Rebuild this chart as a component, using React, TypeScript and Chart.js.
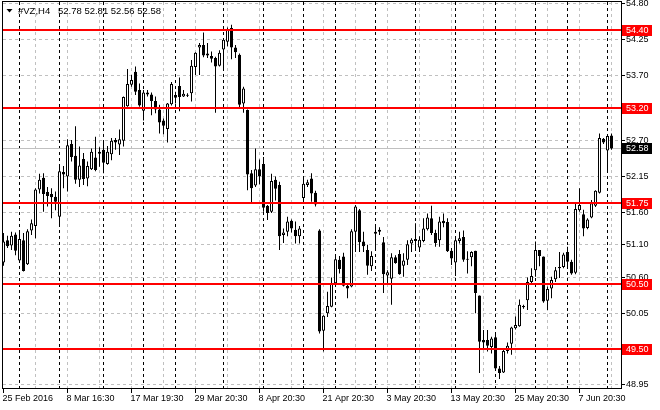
import React, { useEffect, useRef } from "react";
import { Chart, registerables } from "chart.js";

Chart.register(...registerables);

const symbol = "#VZ,H4";

const opens = [
  50.83, 51.17, 51.09, 51.26, 50.86, 51.17, 50.8, 51.32, 51.39, 51.95,
  52.13, 51.91, 51.88, 51.84, 51.53, 52.22, 52.15, 52.65, 52.47, 52.1,
  52.42, 52.12, 52.26, 52.44, 52.53, 52.56, 52.34, 52.49, 52.71, 52.64,
  52.7, 53.23, 53.56, 53.76, 53.48, 53.16, 53.44, 53.41, 53.31, 53.18,
  53.01, 52.88, 53.26, 53.4, 53.54, 53.38, 53.4, 53.43, 53.83, 54.13,
  54.17, 54.04, 54.0, 53.97, 53.85, 54.1, 54.22, 54.43, 54.13, 54.02,
  53.27, 53.17, 52.2, 52.01, 52.26, 52.34, 51.7, 51.61, 52.1, 52.02,
  51.25, 51.3, 51.47, 51.33, 51.23, 51.82, 52.02, 52.12, 51.9, 51.32,
  49.78, 50.05, 50.15, 50.51, 50.87, 50.92, 50.47, 50.46, 51.3, 51.63,
  51.15, 51.02, 50.77, 51.27, 51.33, 51.14, 50.63, 50.58, 50.91, 50.96,
  50.78, 50.87, 51.12, 51.19, 51.06, 51.16, 51.34, 51.51, 51.28, 51.17,
  51.47, 51.45, 51.01, 50.83, 51.16, 51.22, 50.88, 50.91, 51.01, 50.32,
  49.64, 49.64, 49.53, 49.68, 49.2, 49.14, 49.47, 49.58, 49.82, 49.85,
  50.16, 50.25, 50.53, 50.71, 51.02, 50.92, 50.24, 50.43, 50.57, 50.74,
  50.76, 50.99, 50.84, 50.67, 51.63, 51.57, 51.36, 51.52, 51.7, 51.9,
  52.73, 52.55, 52.78,
];

const highs = [
  51.28, 51.24, 51.3, 51.29, 51.28, 51.28, 51.34, 51.49, 51.97, 52.19,
  52.2, 51.99, 51.97, 51.92, 52.33, 52.31, 52.72, 52.71, 52.92, 52.61,
  52.51, 52.38, 52.58, 52.76, 52.6, 52.68, 52.62, 52.74, 52.74, 52.87,
  53.38, 53.8, 53.71, 53.84, 53.58, 53.48, 53.48, 53.44, 53.38, 53.25,
  53.04, 53.28, 53.6, 53.45, 53.67, 53.48, 53.43, 53.94, 54.06, 54.2,
  54.36, 54.2, 54.07, 53.99, 54.09, 54.27, 54.44, 54.48, 54.17, 54.04,
  53.53, 53.18, 52.25, 52.58, 52.41, 52.45, 51.71, 52.19, 52.15, 52.07,
  51.35, 51.53, 51.49, 51.46, 51.39, 52.12, 52.1, 52.2, 51.93, 51.34,
  50.02, 50.38, 50.6, 50.94, 50.93, 50.98, 50.5, 51.34, 51.71, 51.65,
  51.3, 51.1, 51.0, 51.4, 51.37, 51.22, 50.71, 50.97, 50.94, 51.02,
  50.97, 51.17, 51.2, 51.43, 51.23, 51.51, 51.58, 51.7, 51.33, 51.53,
  51.58, 51.51, 51.05, 51.23, 51.3, 51.32, 51.0, 51.0, 51.01, 50.32,
  49.79, 49.79, 49.69, 49.74, 49.24, 49.49, 49.6, 49.84, 50.0, 50.26,
  50.18, 50.6, 50.74, 51.15, 51.02, 50.92, 50.46, 50.61, 50.76, 50.99,
  50.98, 51.07, 50.87, 51.74, 51.97, 51.64, 51.51, 51.79, 51.94, 52.81,
  52.74, 52.79, 52.81,
];

const lows = [
  50.78, 51.05, 51.02, 50.94, 50.84, 50.69, 50.79, 51.25, 51.2, 51.89,
  51.61, 51.69, 51.51, 51.63, 51.38, 51.97, 51.92, 52.38, 52.04, 51.99,
  52.02, 52.0, 52.25, 52.23, 52.3, 52.2, 52.33, 52.4, 52.56, 52.48,
  52.61, 53.22, 53.53, 53.4, 53.22, 53.01, 53.38, 53.09, 53.12, 52.81,
  52.8, 52.67, 53.24, 53.27, 53.15, 53.37, 53.37, 53.3, 53.71, 53.71,
  53.98, 53.97, 53.9, 53.13, 53.84, 53.78, 54.15, 53.95, 53.97, 53.21,
  53.13, 51.94, 51.75, 51.99, 52.03, 51.61, 51.48, 51.59, 51.78, 51.02,
  51.13, 51.23, 51.29, 51.12, 51.12, 51.76, 51.99, 51.76, 51.69, 49.74,
  49.46, 49.99, 50.14, 50.5, 50.66, 50.46, 50.28, 50.45, 50.99, 50.99,
  50.99, 50.64, 50.7, 51.01, 51.25, 50.36, 50.5, 50.18, 50.81, 50.64,
  50.61, 50.79, 50.99, 51.05, 50.99, 51.14, 51.32, 51.25, 51.07, 51.07,
  51.37, 50.99, 50.79, 50.62, 51.12, 50.84, 50.66, 50.77, 50.05, 49.13,
  49.49, 49.46, 49.43, 49.18, 49.04, 49.13, 49.43, 49.41, 49.8, 49.84,
  50.12, 50.1, 50.51, 50.61, 50.77, 50.21, 50.1, 50.28, 50.53, 50.59,
  50.74, 50.77, 50.64, 50.65, 51.61, 51.23, 51.34, 51.51, 51.68, 51.89,
  52.65, 52.22, 52.56,
];

const closes = [
  51.15, 51.08, 51.24, 51.01, 51.19, 50.7, 51.31, 51.43, 51.95, 52.1,
  51.88, 51.85, 51.83, 51.76, 52.23, 52.18, 52.63, 52.45, 52.1, 52.32,
  52.11, 52.31, 52.53, 52.25, 52.5, 52.36, 52.53, 52.7, 52.67, 52.72,
  53.37, 53.57, 53.63, 53.45, 53.24, 53.44, 53.41, 53.31, 53.18, 52.98,
  52.93, 53.27, 53.57, 53.36, 53.37, 53.42, 53.39, 53.85, 54.05, 54.17,
  54.01, 54.01, 53.96, 53.84, 54.05, 54.25, 54.4, 54.13, 54.06, 53.25,
  53.5, 52.18, 51.97, 52.26, 52.15, 51.67, 51.59, 52.08, 51.96, 51.23,
  51.29, 51.46, 51.35, 51.23, 51.35, 52.04, 52.06, 51.89, 51.72, 49.77,
  50.01, 50.16, 50.51, 50.88, 50.73, 50.47, 50.43, 51.31, 51.69, 51.14,
  51.08, 50.78, 50.93, 51.3, 51.3, 50.65, 50.68, 50.91, 50.82, 50.65,
  50.86, 51.11, 51.18, 51.16, 51.18, 51.35, 51.52, 51.28, 51.13, 51.46,
  51.43, 51.0, 50.89, 51.17, 51.2, 50.87, 50.87, 50.99, 50.36, 49.61,
  49.6, 49.55, 49.66, 49.2, 49.13, 49.47, 49.55, 49.83, 49.87, 50.18,
  50.14, 50.53, 50.62, 51.02, 50.93, 50.23, 50.42, 50.56, 50.71, 50.76,
  50.95, 50.84, 50.66, 51.65, 51.71, 51.35, 51.49, 51.74, 51.93, 52.74,
  52.67, 52.77, 52.58,
];

const xLabelBars = [0, 16, 32, 48, 64, 80, 96, 112, 128, 144];
const xLabels = [
  "25 Feb 2016",
  "8 Mar 16:30",
  "17 Mar 19:30",
  "29 Mar 20:30",
  "8 Apr 20:30",
  "21 Apr 20:30",
  "3 May 20:30",
  "13 May 20:30",
  "25 May 20:30",
  "7 Jun 20:30",
];
const gridBars = [8, 16, 24, 32, 40, 48, 56, 64, 72, 80, 88, 96, 104, 112, 120, 128, 136, 144, 152];
const separatorBars = [4, 14, 25, 35, 43, 55, 65, 75, 83, 93, 103, 113, 123, 133, 141, 151];
const yTicks = [54.8, 54.25, 53.7, 53.2, 52.7, 52.15, 51.6, 51.1, 50.6, 50.05, 49.5, 48.95];
const levels = [54.4, 53.2, 51.75, 50.5, 49.5];

const FONT = '9px "Liberation Sans", Arial, sans-serif';
const TITLE_FONT = '9.5px "Liberation Sans", Arial, sans-serif';

function crisp(v: number) {
  return Math.round(v - 0.5) + 0.5;
}

export default function App() {
  const canvasRef = useRef<HTMLCanvasElement | null>(null);

  useEffect(() => {
    const prevMargin = document.body.style.margin;
    document.body.style.margin = "0";
    const canvas = canvasRef.current;
    if (!canvas) return;

    const idx = closes.map((_, i) => i);
    const bull = idx.map((i) => closes[i] >= opens[i]);
    const wickData = idx.map((i) => ({ x: i, y: [lows[i], highs[i]] }));
    const bodyData = idx.map((i) => ({
      x: i,
      y: [Math.min(opens[i], closes[i]), Math.max(opens[i], closes[i])],
    }));
    const last = closes.length - 1;

    const overlay = {
      id: "mt4Overlay",
      beforeDatasetsDraw(chart: any) {
        const { ctx, chartArea: a } = chart;
        const x = chart.scales.x;
        const y = chart.scales.y;
        ctx.save();
        ctx.beginPath();
        ctx.rect(a.left, a.top, a.right - a.left, a.bottom - a.top);
        ctx.clip();
        ctx.lineWidth = 1;
        ctx.setLineDash([3, 3]);
        ctx.strokeStyle = "#c0c0c0";
        yTicks.forEach((v) => {
          const yy = crisp(y.getPixelForValue(v));
          ctx.beginPath();
          ctx.moveTo(a.left, yy);
          ctx.lineTo(a.right, yy);
          ctx.stroke();
        });
        gridBars.forEach((b) => {
          const xx = crisp(x.getPixelForValue(b));
          ctx.beginPath();
          ctx.moveTo(xx, a.top);
          ctx.lineTo(xx, a.bottom);
          ctx.stroke();
        });
        ctx.strokeStyle = "#000000";
        separatorBars.forEach((b) => {
          const xx = crisp(x.getPixelForValue(b));
          ctx.beginPath();
          ctx.moveTo(xx, a.top);
          ctx.lineTo(xx, a.bottom);
          ctx.stroke();
        });
        ctx.setLineDash([]);
        ctx.strokeStyle = "#c0c0c0";
        const py = crisp(y.getPixelForValue(closes[last]));
        ctx.beginPath();
        ctx.moveTo(a.left, py);
        ctx.lineTo(a.right, py);
        ctx.stroke();
        ctx.restore();
      },
      afterDatasetsDraw(chart: any) {
        const { ctx, chartArea: a } = chart;
        const y = chart.scales.y;
        ctx.save();
        ctx.strokeStyle = "#ff0000";
        ctx.lineWidth = 2;
        levels.forEach((lv) => {
          const yy = Math.round(y.getPixelForValue(lv));
          ctx.beginPath();
          ctx.moveTo(a.left, yy);
          ctx.lineTo(a.right, yy);
          ctx.stroke();
        });
        ctx.restore();
      },
      afterDraw(chart: any) {
        const { ctx, chartArea: a } = chart;
        const x = chart.scales.x;
        const y = chart.scales.y;
        ctx.save();
        // frame
        ctx.strokeStyle = "#000000";
        ctx.lineWidth = 1;
        ctx.strokeRect(a.left - 0.5, a.top - 0.5, a.right - a.left + 1, a.bottom - a.top + 1);

        ctx.font = FONT;
        ctx.fillStyle = "#000000";
        ctx.textAlign = "left";
        ctx.textBaseline = "middle";

        // y ticks and labels
        yTicks.forEach((v) => {
          const yy = crisp(y.getPixelForValue(v));
          ctx.beginPath();
          ctx.moveTo(a.right, yy);
          ctx.lineTo(a.right + 4, yy);
          ctx.stroke();
          ctx.fillText(v.toFixed(2), a.right + 5, yy);
        });

        // x ticks and labels
        xLabelBars.forEach((b, i) => {
          const xx = crisp(x.getPixelForValue(b));
          ctx.beginPath();
          ctx.moveTo(xx, a.bottom);
          ctx.lineTo(xx, a.bottom + 5);
          ctx.stroke();
          ctx.fillText(xLabels[i], xx - 1, a.bottom + 10.5);
        });

        // level labels
        levels.forEach((lv) => {
          const yy = Math.round(y.getPixelForValue(lv));
          ctx.fillStyle = "#ff0000";
          ctx.fillRect(a.right + 1, yy - 5, 30, 11);
          ctx.fillStyle = "#ffffff";
          ctx.fillText(lv.toFixed(2), a.right + 5, yy + 0.5);
        });

        // current price label
        const py = Math.round(y.getPixelForValue(closes[last]));
        ctx.fillStyle = "#000000";
        ctx.fillRect(a.right + 1, py - 5, 30, 11);
        ctx.fillStyle = "#ffffff";
        ctx.fillText(closes[last].toFixed(2), a.right + 5, py + 0.5);

        // title
        ctx.fillStyle = "#000000";
        ctx.beginPath();
        ctx.moveTo(6.5, 9);
        ctx.lineTo(12.5, 9);
        ctx.lineTo(9.5, 12.5);
        ctx.closePath();
        ctx.fill();
        ctx.font = TITLE_FONT;
        ctx.fillText(symbol, 18, 11.5);
        const ohlc = [opens[last], highs[last], lows[last], closes[last]].map((v) => v.toFixed(2)).join(" ");
        ctx.fillText(ohlc, 58, 11.5);
        ctx.restore();
      },
    };

    const chart = new Chart(canvas, {
      type: "bar",
      data: {
        datasets: [
          {
            label: "body",
            data: bodyData as any,
            barThickness: 3,
            backgroundColor: bull.map((b) => (b ? "#ffffff" : "#000000")),
            borderColor: "#000000",
            borderWidth: 1,
            borderSkipped: false,
            inflateAmount: 0,
            minBarLength: 1,
            grouped: false,
            order: 0,
          } as any,
          {
            label: "wick",
            data: wickData as any,
            barThickness: 1,
            backgroundColor: "#000000",
            borderWidth: 0,
            inflateAmount: 0,
            grouped: false,
            order: 1,
          } as any,
        ],
      },
      options: {
        animation: false,
        responsive: false,
        maintainAspectRatio: false,
        devicePixelRatio: 1,
        events: [],
        layout: { padding: { left: 3, top: 2, right: 0, bottom: 0 } },
        plugins: { legend: { display: false }, tooltip: { enabled: false } },
        scales: {
          x: {
            type: "linear",
            offset: false,
            bounds: "data",
            min: -0.125,
            max: 154.375,
            grid: { display: false, drawTicks: false },
            border: { display: false },
            ticks: { display: false },
            afterFit: (s: any) => {
              s.height = 22;
            },
          },
          y: {
            type: "linear",
            position: "right",
            bounds: "data",
            min: 48.901,
            max: 54.83,
            grid: { display: false, drawTicks: false },
            border: { display: false },
            ticks: { display: false },
            afterFit: (s: any) => {
              s.width = 39;
            },
          },
        },
      } as any,
      plugins: [overlay],
    });

    return () => {
      chart.destroy();
      document.body.style.margin = prevMargin;
    };
  }, []);

  return (
    <canvas
      ref={canvasRef}
      width={660}
      height={410}
      style={{ display: "block", width: 660, height: 410 }}
    />
  );
}
